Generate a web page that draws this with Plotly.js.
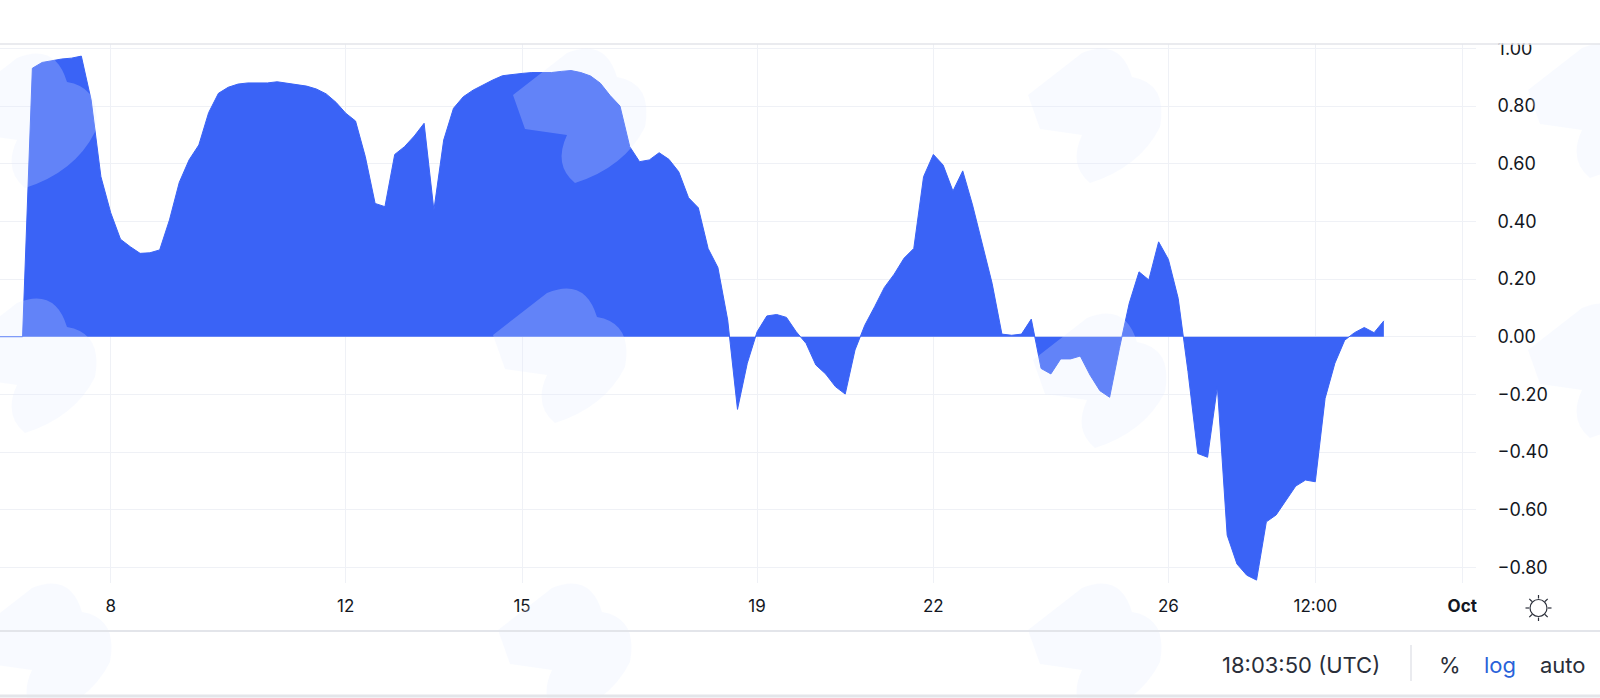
<!DOCTYPE html>
<html>
<head>
<meta charset="utf-8">
<script src="https://cdn.plot.ly/plotly-3.0.1.min.js"></script>
<style>html,body{margin:0;padding:0;background:#fff}#chart{width:1600px;height:698px}</style>
</head>
<body>
<div id="chart"></div>
<script>
// 4-hourly readings, first reading at seriesStart
const seriesStart = "2024-09-06T00:00:00Z";
const stepHours = 4;
const values = [
 0,0,0,0,
 .931,.951,.957,.963,.966,.973,.821,.555,
 .430,.338,.312,.289,.291,.301,.405,.535,.613,.665,.777,.844,
 .865,.876,.880,.880,.880,.884,.879,.876,.869,.859,.842,.813,
 .775,.748,.624,.462,.451,.632,.659,.696,.740,.439,.682,.792,
 .832,.855,.873,.890,.905,.910,.913,.916,.917,.916,.920,.923,
 .916,.904,.879,.836,.800,.659,.607,.613,.638,.615,.572,.482,
 .447,.306,.240,.058,-.252,-.092,.017,.072,.077,.067,.017,-.023,
 -.098,-.129,-.173,-.199,-.046,.040,.104,.171,.217,.272,.306,.555,
 .632,.595,.505,.575,.457,.324,.185,.009,.005,.009,.061,-.110,
 -.129,-.077,-.077,-.067,-.133,-.187,-.210,-.040,.116,.225,.197,.329,
 .268,.133,-.121,-.405,-.418,-.173,-.688,-.788,-.827,-.844,-.642,-.618,
 -.566,-.518,-.497,-.503,-.214,-.092,-.012,.014,.032,.014,.055
];
const xTickVals = ["2024-09-08","2024-09-12","2024-09-15","2024-09-19","2024-09-22","2024-09-26","2024-09-28 12:00","2024-10-01"];
const xTickText = ["8","12","15","19","22","26","12:00","<b>Oct</b>"];
const yTickVals = [-0.8,-0.6,-0.4,-0.2,0,0.2,0.4,0.6,0.8,1.0];
const xRange = ["2024-09-06 02:47","2024-10-01 05:38"];
const yRange = [-0.854,1.015];
const statusTime = "18:03:50 (UTC)";

const W = 1600, H = 698, mL = 0, mR = 124, mT = 44, mB = 115;
const times = values.map((_, i) => new Date(Date.parse(seriesStart) + i * stepHours * 3600e3).toISOString());
const px = x => (x - mL) / (W - mL - mR);
const py = y => 1 - (y - mT) / (H - mT - mB);

const INK = "#131722", LINE = "#e3e5ea", BLUE = "#3a63f6";

function rectPx(x0, y0, x1, y1, fill) {
  return {type:"rect", xref:"paper", yref:"paper", x0:px(x0), x1:px(x1), y0:py(y0), y1:py(y1), fillcolor:fill, line:{width:0}, layer:"above"};
}
function linePx(x0, y0, x1, y1, color, width) {
  return {type:"line", xref:"paper", yref:"paper", x0:px(x0), x1:px(x1), y0:py(y0), y1:py(y1), line:{color, width}, layer:"above"};
}
function blob(cx, cy) {
  const P = (x, y) => px(cx + x) + "," + py(cy + y);
  const d = "M" + P(-62, -10) + " L" + P(-8, -52) + " Q" + P(30, -68) + " " + P(42, -28) +
    " Q" + P(78, -22) + " " + P(70, 22) + " Q" + P(50, 62) + " " + P(0, 78) +
    " Q" + P(-22, 60) + " " + P(-8, 30) + " L" + P(-50, 24) + " Z";
  return {type:"path", xref:"paper", yref:"paper", path:d, fillcolor:"rgba(226,234,255,0.24)", line:{width:0}, layer:"above"};
}
const blobs = [[25,110],[575,105],[1090,105],[1590,100],[25,355],[555,345],[1095,370],[1590,360],[40,640],[560,640],[1090,640]].map(p => blob(p[0], p[1]));

const sun = [
  {type:"circle", xref:"paper", yref:"paper", x0:px(1530), x1:px(1547), y0:py(599.5), y1:py(616.5), line:{color:"#2a2e39", width:1.2}, fillcolor:"rgba(0,0,0,0)", layer:"above"},
  linePx(1538.5,595,1538.5,598.5,"#2a2e39",1.2), linePx(1538.5,617.5,1538.5,621,"#2a2e39",1.2),
  linePx(1525.5,608,1529,608,"#2a2e39",1.2), linePx(1548,608,1551.5,608,"#2a2e39",1.2),
  linePx(1529.3,598.8,1532,601.5,"#2a2e39",1.2), linePx(1545,614.5,1547.7,617.2,"#2a2e39",1.2),
  linePx(1547.7,598.8,1545,601.5,"#2a2e39",1.2), linePx(1532,614.5,1529.3,617.2,"#2a2e39",1.2)
];

const notes = [
  {t:statusTime, x:1382, color:"#2a2e39", size:22, anchor:"right"},
  {t:"%", x:1450, color:"#2a2e39", size:22, anchor:"center"},
  {t:"log", x:1500, color:"#2962d9", size:22, anchor:"center"},
  {t:"auto", x:1563, color:"#2a2e39", size:22, anchor:"center"}
].map(n => ({text:n.t, xref:"paper", yref:"paper", x:px(n.x), y:py(665), xanchor:n.anchor, yanchor:"middle", showarrow:false, font:{family:"Inter, sans-serif", size:n.size, color:n.color}}));

const layout = {
  width:W, height:H, margin:{l:mL, r:mR, t:mT, b:mB, pad:0},
  paper_bgcolor:"#fff", plot_bgcolor:"#fff", showlegend:false,
  font:{family:"Inter, sans-serif", color:INK},
  xaxis:{type:"date", range:xRange, tickmode:"array", tickvals:xTickVals, ticktext:xTickText,
         showgrid:true, gridcolor:"#eff1f6", gridwidth:1, zeroline:false, showline:false,
         ticks:"outside", ticklen:8, tickcolor:"rgba(0,0,0,0)", tickfont:{size:17, color:INK, family:"Inter, sans-serif"}},
  yaxis:{side:"right", range:yRange, tickmode:"array", tickvals:yTickVals, tickformat:".2f",
         showgrid:true, gridcolor:"#eff1f6", gridwidth:1, zeroline:false, showline:false,
         ticks:"outside", ticklen:17, tickcolor:"rgba(0,0,0,0)", tickfont:{size:18, color:INK, family:"Inter, sans-serif"}},
  shapes:[
    ...blobs,
    rectPx(1477, 585, 1525, 628, "#fff"),
    rectPx(0, 0, 1600, 43.5, "#fff"),
    linePx(0, 44, 1600, 44, LINE, 1.5),
    linePx(0, 631, 1600, 631, LINE, 2),
    linePx(0, 696, 1600, 696, LINE, 3),
    linePx(1411, 645, 1411, 681, LINE, 1.5),
    ...sun
  ],
  annotations:notes
};

Plotly.newPlot("chart", [{
  type:"scatter", mode:"lines", x:times, y:values, fill:"tozeroy", fillcolor:BLUE,
  line:{color:BLUE, width:1, shape:"linear"}, hoverinfo:"x+y"
}], layout, {displayModeBar:false, staticPlot:true});
</script>
</body>
</html>
